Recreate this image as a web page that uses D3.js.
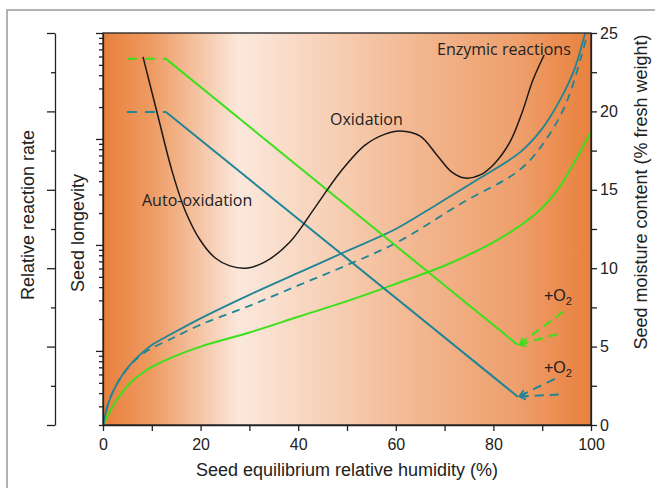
<!DOCTYPE html>
<html><head><meta charset="utf-8">
<script src="https://cdn.jsdelivr.net/npm/d3@7"></script>
<style>body{margin:0;background:#fff}svg{display:block}</style>
</head><body>
<svg id="c" width="655" height="488"></svg>
<script>
// ---------- data ----------
const rhTicks = [0,10,20,30,40,50,60,70,80,90,100];
const rhLabels = [0,20,40,60,80,100];
const mcTicks = [0,2.5,5,7.5,10,12.5,15,17.5,20,22.5,25];
const mcLabels = [0,5,10,15,20,25];
const rateTicks = [0,1,2,3,4,5,6,7,8,9,10];
const longMajor = [1000,100,10,1];

// relative reaction rate curve [RH %, rate]
const reactionRate = [[8.2,9.39],[11.1,7.96],[14.1,6.5],[16.8,5.48],[19.9,4.72],[23.0,4.26],[26.0,4.06],[29.3,4.0],[33.2,4.16],[38.3,4.67],[43.4,5.54],[48.6,6.45],[53.7,7.14],[57.8,7.42],[60.9,7.5],[65.0,7.37],[68.4,6.89],[71.5,6.45],[74.2,6.3],[77.3,6.38],[80.3,6.68],[83.4,7.22],[85.9,7.98],[88.1,8.8],[90.4,9.44]];

// moisture sorption isotherms [RH %, MC %]
const tealIsotherm = [[0,0],[1,1.3],[2,2.1],[4,3.2],[6,4.0],[8,4.6],[10,5.1],[14,5.8],[20,6.8],[30,8.3],[40,9.7],[50,11.1],[60,12.5],[68.6,14.1],[77,15.7],[85.5,17.4],[90,18.9],[93.6,20.7],[96.5,22.6],[98.8,25]];
const tealIsothermDashed = [[0,0],[1,1.3],[2,2.1],[4,3.2],[6,3.95],[8,4.5],[10,4.9],[14,5.5],[20,6.4],[30,7.6],[40,8.9],[50,10.2],[60,11.6],[73.8,14.2],[85.5,16.3],[91,18.3],[95,20.6],[98,23.5],[99.3,25]];
const greenIsotherm = [[0,0],[1,0.6],[2,1.2],[4,2.1],[6,2.8],[8,3.3],[10,3.7],[14,4.3],[20,5.0],[30,5.9],[40,6.9],[50,7.9],[60,9.0],[71,10.3],[81.4,11.9],[89.5,13.7],[93.6,15.2],[97,17.0],[100,18.7]];

// seed longevity (log scale) [RH %, longevity]
const greenLongDashed = [[4.9,570],[12.9,570]];
const greenLong = [[12.9,570],[85,1.14]];
const tealLongDashed = [[4.9,180],[12.9,180]];
const tealLong = [[12.9,180],[85,0.37]];
const greenO2a = [[85.4,1.16],[95.1,2.49]];
const greenO2b = [[85.4,1.15],[94.1,1.48]];
const tealO2a = [[85.4,0.375],[93.4,0.57]];
const tealO2b = [[85.4,0.372],[94.3,0.39]];

// ---------- drawing ----------
const svg = d3.select('#c');
const L=103, R=591, T=33, B=425;
const x = d3.scaleLinear().domain([0,100]).range([L,R]);
const yMC = d3.scaleLinear().domain([0,25]).range([B,T]);
const yRate = d3.scaleLinear().domain([0,10]).range([B,T]);
const yLong = d3.scaleLog().domain([0.2,1000]).range([B,T]);

const GREEN = '#3be01c', TEAL = '#1f8596', AX = '#222';
const axisFont = 'Liberation Sans, Arial, sans-serif';
const noteFont = 'Open Sans, sans-serif';

// outer frame
svg.append('rect').attr('x',7).attr('y',10).attr('width',700).attr('height',520)
  .attr('fill','none').attr('stroke','#9a9a9a').attr('stroke-width',1.5);

const defs = svg.append('defs');
const grad = defs.append('linearGradient').attr('id','bg').attr('x1',0).attr('x2',1).attr('y1',0).attr('y2',0);
[[0,'#e8803c'],[0.1,'#ee9b63'],[0.28,'#fbe8dc'],[0.45,'#f7d2b9'],[0.65,'#f2b68e'],[0.85,'#ee9f6c'],[1,'#e8803c']]
  .forEach(([o,c])=>grad.append('stop').attr('offset',o).attr('stop-color',c));
defs.append('clipPath').attr('id','clip').append('rect').attr('x',L).attr('y',T).attr('width',R-L).attr('height',B-T);

['g','t'].forEach(k=>{
  defs.append('marker').attr('id','arr'+k).attr('viewBox','-8 -5 10 10')
    .attr('refX',0).attr('refY',0).attr('markerWidth',10).attr('markerHeight',10)
    .attr('markerUnits','userSpaceOnUse').attr('orient','auto-start-reverse')
    .append('path').attr('d','M-6,-3.5L0,0L-6,3.5').attr('fill','none')
    .attr('stroke',k==='g'?GREEN:TEAL).attr('stroke-width',1.8);
});

svg.append('rect').attr('x',L).attr('y',T).attr('width',R-L).attr('height',B-T).attr('fill','url(#bg)');

const plot = svg.append('g').attr('clip-path','url(#clip)');
const lineMC = d3.line().x(d=>x(d[0])).y(d=>yMC(d[1])).curve(d3.curveCatmullRom.alpha(0.5));
const lineLong = d3.line().x(d=>x(d[0])).y(d=>yLong(d[1]));
const lineRate = d3.line().x(d=>x(d[0])).y(d=>yRate(d[1])).curve(d3.curveCatmullRom.alpha(0.5));

plot.append('path').attr('d',lineMC(greenIsotherm)).attr('fill','none').attr('stroke',GREEN).attr('stroke-width',2);
plot.append('path').attr('d',lineMC(tealIsothermDashed)).attr('fill','none').attr('stroke',TEAL).attr('stroke-width',1.8).attr('stroke-dasharray','8,6');
plot.append('path').attr('d',lineMC(tealIsotherm)).attr('fill','none').attr('stroke',TEAL).attr('stroke-width',1.8);

plot.append('path').attr('d',lineLong(greenLongDashed)).attr('fill','none').attr('stroke',GREEN).attr('stroke-width',2).attr('stroke-dasharray','10,8');
plot.append('path').attr('d',lineLong(greenLong)).attr('fill','none').attr('stroke',GREEN).attr('stroke-width',2);
plot.append('path').attr('d',lineLong(tealLongDashed)).attr('fill','none').attr('stroke',TEAL).attr('stroke-width',2).attr('stroke-dasharray','10,8');
plot.append('path').attr('d',lineLong(tealLong)).attr('fill','none').attr('stroke',TEAL).attr('stroke-width',2);

[[greenO2a,'g',GREEN],[greenO2b,'g',GREEN],[tealO2a,'t',TEAL],[tealO2b,'t',TEAL]].forEach(([d,k,c])=>{
  plot.append('path').attr('d',lineLong(d)).attr('fill','none').attr('stroke',c).attr('stroke-width',2)
    .attr('stroke-dasharray','9,6').attr('marker-start','url(#arr'+k+')');
});

plot.append('path').attr('d',lineRate(reactionRate)).attr('fill','none').attr('stroke','#1a1a1a').attr('stroke-width',1.5);

// plot border
svg.append('rect').attr('x',L).attr('y',T).attr('width',R-L).attr('height',B-T).attr('fill','none').attr('stroke',AX).attr('stroke-width',1.3);

function styleAxis(g){
  g.selectAll('path,line').attr('stroke',AX).attr('stroke-width',1.3);
  g.selectAll('text').attr('font-family',axisFont).attr('font-size',16).attr('fill','#222');
}

// bottom axis
const gx = svg.append('g').attr('transform',`translate(0,${B})`)
  .call(d3.axisBottom(x).tickValues(rhTicks).tickSize(6).tickSizeOuter(0).tickPadding(8)
    .tickFormat(d=>rhLabels.includes(d)?d:''));
styleAxis(gx);

// right axis
const gr = svg.append('g').attr('transform',`translate(${R},0)`)
  .call(d3.axisRight(yMC).tickValues(mcTicks).tickSize(6).tickSizeOuter(0).tickPadding(3)
    .tickFormat(d=>mcLabels.includes(d)?d:''));
styleAxis(gr);

// longevity log axis
const longTicks = [];
for (let e=-1;e<=3;e++) for (let m=1;m<=9;m++){ const v=m*Math.pow(10,e); if (v>=0.2-1e-9 && v<=1000+1e-9) longTicks.push(v); }
const gl = svg.append('g').attr('transform',`translate(${L},0)`)
  .call(d3.axisLeft(yLong).tickValues(longTicks).tickSize(4).tickSizeOuter(0).tickFormat(''));
gl.selectAll('.tick line').attr('x2',d=>longMajor.some(m=>Math.abs(m-d)<1e-9)?-7:-4);
styleAxis(gl);

// relative reaction rate axis
const gRate = svg.append('g').attr('transform','translate(55,0)')
  .call(d3.axisLeft(yRate).tickValues(rateTicks).tickSize(8).tickSizeOuter(0).tickFormat(''));
gRate.selectAll('.tick line').attr('x2',d=>d%2===0?-8:-4);
styleAxis(gRate);

// axis titles
svg.append('text').attr('x',(L+R)/2).attr('y',476).attr('text-anchor','middle')
  .attr('font-family',axisFont).attr('font-size',18).attr('fill','#222').text('Seed equilibrium relative humidity (%)');
svg.append('text').attr('transform','translate(641,192) rotate(-90)').attr('text-anchor','middle').attr('dy','0.35em')
  .attr('font-family',axisFont).attr('font-size',18).attr('fill','#222').text('Seed moisture content (% fresh weight)');
svg.append('text').attr('transform','translate(28,215) rotate(-90)').attr('text-anchor','middle').attr('dy','0.35em')
  .attr('font-family',axisFont).attr('font-size',18).attr('fill','#222').text('Relative reaction rate');
svg.append('text').attr('transform','translate(78,233) rotate(-90)').attr('text-anchor','middle').attr('dy','0.35em')
  .attr('font-family',axisFont).attr('font-size',18).attr('fill','#222').text('Seed longevity');

// annotations
const notes = [['Enzymic reactions',437,55],['Oxidation',330,125],['Auto-oxidation',142,206]];
notes.forEach(([t,tx,ty])=>svg.append('text').attr('x',tx).attr('y',ty).attr('font-family',noteFont)
  .attr('font-size',16).attr('fill','#222').text(t));

[[544,301],[544,373]].forEach(([tx,ty])=>{
  const t = svg.append('text').attr('x',tx).attr('y',ty).attr('font-family',axisFont).attr('font-size',16).attr('fill','#222');
  t.append('tspan').text('+O');
  t.append('tspan').attr('font-size',11).attr('dy',4).text('2');
});
</script>
</body></html>
